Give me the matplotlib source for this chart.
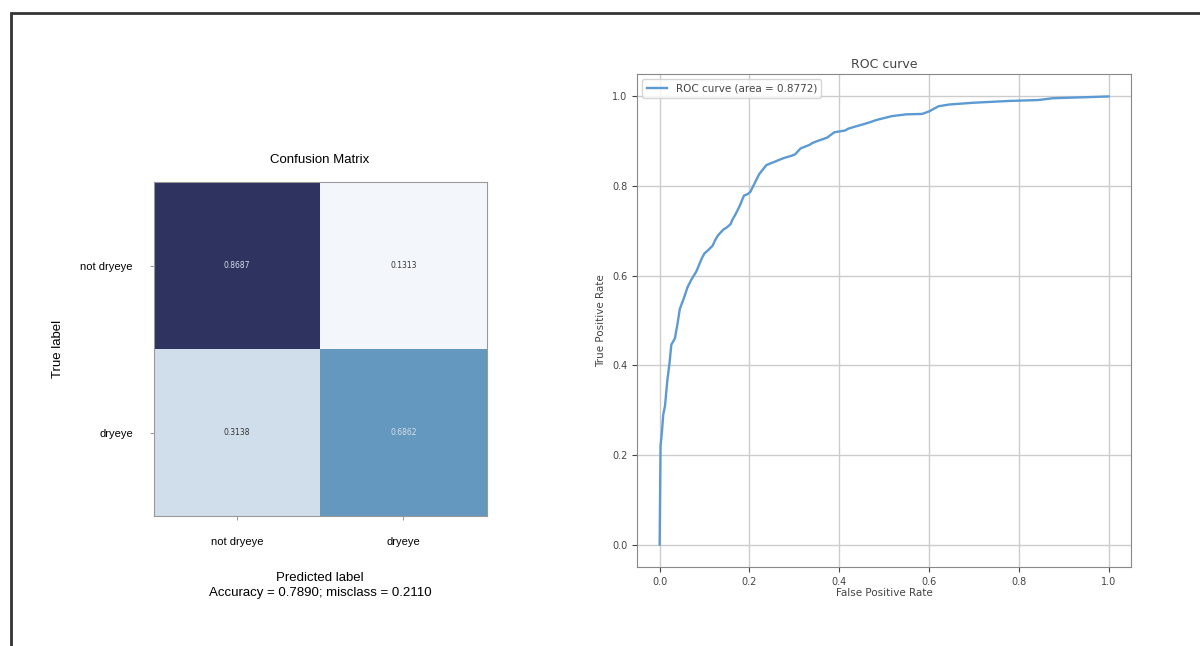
import numpy as np
import matplotlib
matplotlib.use('Agg')
import matplotlib.pyplot as plt
from matplotlib.colors import LinearSegmentedColormap
from matplotlib.patches import Rectangle

classes = ['not dryeye', 'dryeye']
cm = np.array([[0.8687, 0.1313],
               [0.3138, 0.6862]])
accuracy = 0.7890
misclass = 0.2110

fpr = [0.0, 0.002, 0.005, 0.008, 0.012, 0.017, 0.022, 0.026, 0.034, 0.040,
       0.045, 0.054, 0.062, 0.070, 0.082, 0.094, 0.100, 0.106, 0.118, 0.124,
       0.130, 0.142, 0.150, 0.158, 0.162, 0.168, 0.178, 0.188, 0.196, 0.202,
       0.210, 0.222, 0.238, 0.258, 0.270, 0.278, 0.295, 0.302, 0.314, 0.334,
       0.340, 0.350, 0.373, 0.389, 0.413, 0.420, 0.433, 0.461, 0.485,
       0.517, 0.549, 0.585, 0.601, 0.621, 0.645, 0.700, 0.740, 0.780, 0.844,
       0.876, 0.940, 1.0]
tpr = [0.0, 0.22, 0.25, 0.29, 0.31, 0.365, 0.405, 0.446, 0.46, 0.494,
       0.526, 0.55, 0.574, 0.59, 0.61, 0.639, 0.650, 0.655, 0.667, 0.680,
       0.69, 0.703, 0.708, 0.715, 0.725, 0.735, 0.755, 0.779, 0.782, 0.787,
       0.803, 0.827, 0.847, 0.855, 0.860, 0.863, 0.868, 0.871, 0.884, 0.892,
       0.896, 0.90, 0.908, 0.92, 0.924, 0.928, 0.932, 0.94, 0.948,
       0.956, 0.96, 0.961, 0.967, 0.978, 0.982, 0.986, 0.988, 0.99, 0.992,
       0.996, 0.998, 1.0]
roc_auc = 0.8772

fig = plt.figure(figsize=(12, 6.46), dpi=100)

# frame around the screenshot
fig.patches.append(Rectangle((11/1200, -0.1), 2, 1 - 13/646 + 0.1,
                             transform=fig.transFigure, fill=False,
                             edgecolor='#333333', linewidth=2))

# confusion matrix
cmap = LinearSegmentedColormap.from_list(
    'cmblues', [(0.0, '#f3f7fb'), (0.2473, '#d0deec'),
                (0.7527, '#6699bf'), (1.0, '#2e3360')])
ax1 = fig.add_axes([0.128, 0.2012, 0.2775, 0.517])
ax1.imshow(cm, interpolation='nearest', cmap=cmap, aspect='auto',
           vmin=cm.min(), vmax=cm.max())
ax1.set_title('Confusion Matrix', fontsize=9.5, family='Liberation Sans', pad=14)
ax1.set_xticks(np.arange(len(classes)))
ax1.set_xticklabels(classes, fontsize=8, family='Liberation Sans')
ax1.set_yticks(np.arange(len(classes)))
ax1.set_yticklabels(classes, fontsize=8, family='Liberation Sans')
ax1.tick_params(length=3, width=0.6, color='#888888', pad=12)
thresh = cm.max() / 1.5
for i in range(cm.shape[0]):
    for j in range(cm.shape[1]):
        ax1.text(j, i, '{:0.4f}'.format(cm[i, j]), ha='center', va='center',
                 fontsize=5.5,
                 color='#d8dde8' if cm[i, j] > thresh else '#333333')
ax1.set_ylabel('True label', fontsize=9.5, family='Liberation Sans', labelpad=12)
ax1.set_xlabel('Predicted label\nAccuracy = {:0.4f}; misclass = {:0.4f}'.format(accuracy, misclass),
               fontsize=9.5, family='Liberation Sans', labelpad=18, linespacing=1.3)
for s in ax1.spines.values():
    s.set_color('#999999')

# ROC curve
ax2 = fig.add_axes([0.531, 0.1223, 0.4115, 0.7631])
ax2.plot(fpr, tpr, color='#5b9ad2', lw=1.7, label='ROC curve (area = %0.4f)' % roc_auc)
ax2.set_xticks([0.0, 0.2, 0.4, 0.6, 0.8, 1.0])
ax2.set_yticks([0.0, 0.2, 0.4, 0.6, 0.8, 1.0])
ax2.tick_params(labelsize=7, colors='#444444')
ax2.set_xlabel('False Positive Rate', fontsize=7.5, color='#444444', labelpad=1)
ax2.set_ylabel('True Positive Rate', fontsize=7.5, color='#444444')
ax2.set_title('ROC curve', fontsize=9, color='#444444', pad=4)
ax2.grid(True, color='#cccccc', lw=1)
ax2.legend(loc='upper left', fontsize=7.5, labelcolor='#444444')
for s in ax2.spines.values():
    s.set_color('#888888')

fig.savefig('out.png', dpi=100)
